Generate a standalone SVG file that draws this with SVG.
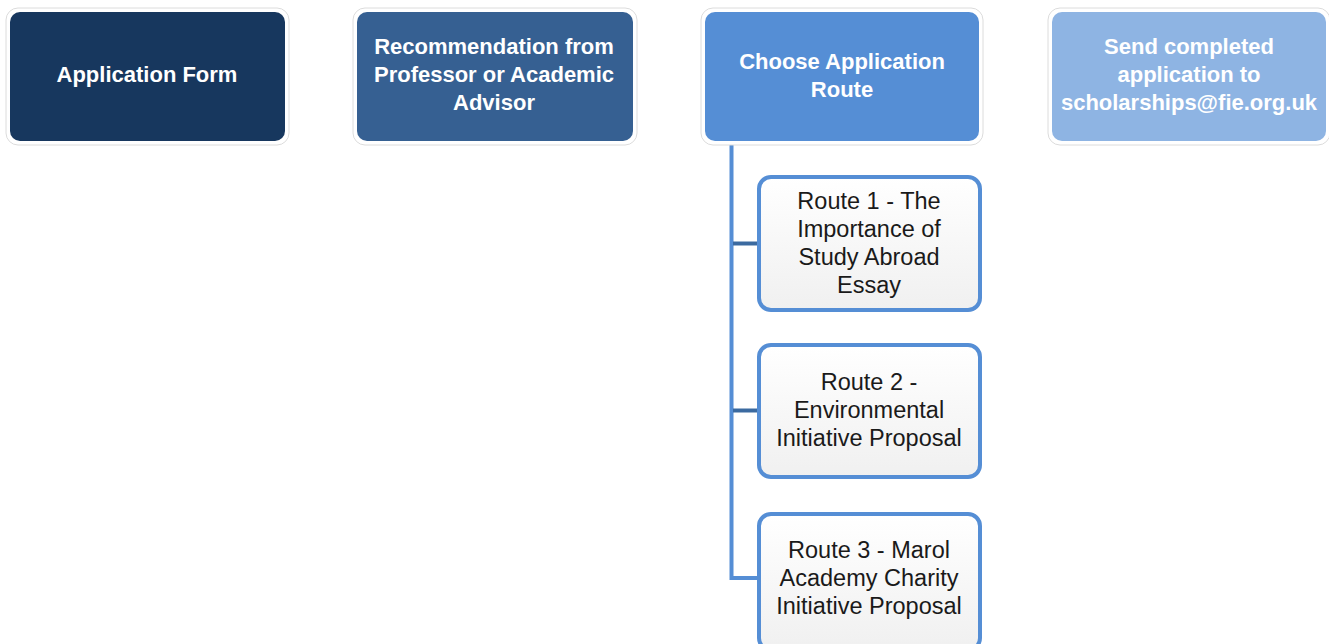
<svg xmlns="http://www.w3.org/2000/svg" width="1329" height="644" viewBox="0 0 1329 644">
<defs>
<linearGradient id="rg" x1="0" y1="0" x2="0" y2="1">
<stop offset="0" stop-color="#ffffff"/>
<stop offset="1" stop-color="#f0f0f0"/>
</linearGradient>
</defs>
<style>
.halo{fill:#ffffff;stroke:#dcdcdc;stroke-width:1}
.top{font-family:"Liberation Sans",Arial,sans-serif;font-weight:bold;font-size:22px;fill:#ffffff;text-anchor:middle}
.route{fill:url(#rg);stroke:#558ed5;stroke-width:4}
.rt{font-family:"Liberation Sans",Arial,sans-serif;font-size:23.5px;fill:#1a1a1a;text-anchor:middle}
.vline{stroke:#558ed5;stroke-width:4;fill:none}
.hline{stroke:#3b6aa0;stroke-width:4;fill:none}
</style>
<rect width="1329" height="644" fill="#ffffff"/>
<g id="connectors">
<path class="vline" d="M731.5 141 V578 H757"/>
<path class="hline" d="M733 243.5 H757"/>
<path class="hline" d="M733 410.5 H757"/>
</g>
<g id="node-application-form">
<rect class="halo" x="6" y="8" width="283" height="137" rx="12"/>
<rect x="10" y="12" width="275" height="129" rx="10" fill="#17375e"/>
<text class="top" x="147" y="82">Application Form</text>
</g>
<g id="node-recommendation">
<rect class="halo" x="353" y="8" width="284" height="137" rx="12"/>
<rect x="357" y="12" width="276" height="129" rx="10" fill="#366092"/>
<text class="top" x="494" y="54">Recommendation from</text>
<text class="top" x="494" y="82">Professor or Academic</text>
<text class="top" x="494" y="110">Advisor</text>
</g>
<g id="node-choose-route">
<rect class="halo" x="701" y="8" width="282" height="137" rx="12"/>
<rect x="705" y="12" width="274" height="129" rx="10" fill="#558ed5"/>
<text class="top" x="842" y="69">Choose Application</text>
<text class="top" x="842" y="97">Route</text>
</g>
<g id="node-send">
<rect class="halo" x="1048" y="8" width="282" height="137" rx="12"/>
<rect x="1052" y="12" width="274" height="129" rx="10" fill="#8eb4e3"/>
<text class="top" x="1189" y="54">Send completed</text>
<text class="top" x="1189" y="82">application to</text>
<text class="top" x="1189" y="110">scholarships@fie.org.uk</text>
</g>
<g id="node-route1">
<rect class="route" x="759" y="177" width="221" height="133" rx="12"/>
<text class="rt" x="869" y="209">Route 1 - The</text>
<text class="rt" x="869" y="237">Importance of</text>
<text class="rt" x="869" y="265">Study Abroad</text>
<text class="rt" x="869" y="293">Essay</text>
</g>
<g id="node-route2">
<rect class="route" x="759" y="345" width="221" height="132" rx="12"/>
<text class="rt" x="869" y="390">Route 2 -</text>
<text class="rt" x="869" y="418">Environmental</text>
<text class="rt" x="869" y="446">Initiative Proposal</text>
</g>
<g id="node-route3">
<rect class="route" x="759" y="514" width="221" height="136" rx="12"/>
<text class="rt" x="869" y="558">Route 3 - Marol</text>
<text class="rt" x="869" y="586">Academy Charity</text>
<text class="rt" x="869" y="614">Initiative Proposal</text>
</g>
</svg>
